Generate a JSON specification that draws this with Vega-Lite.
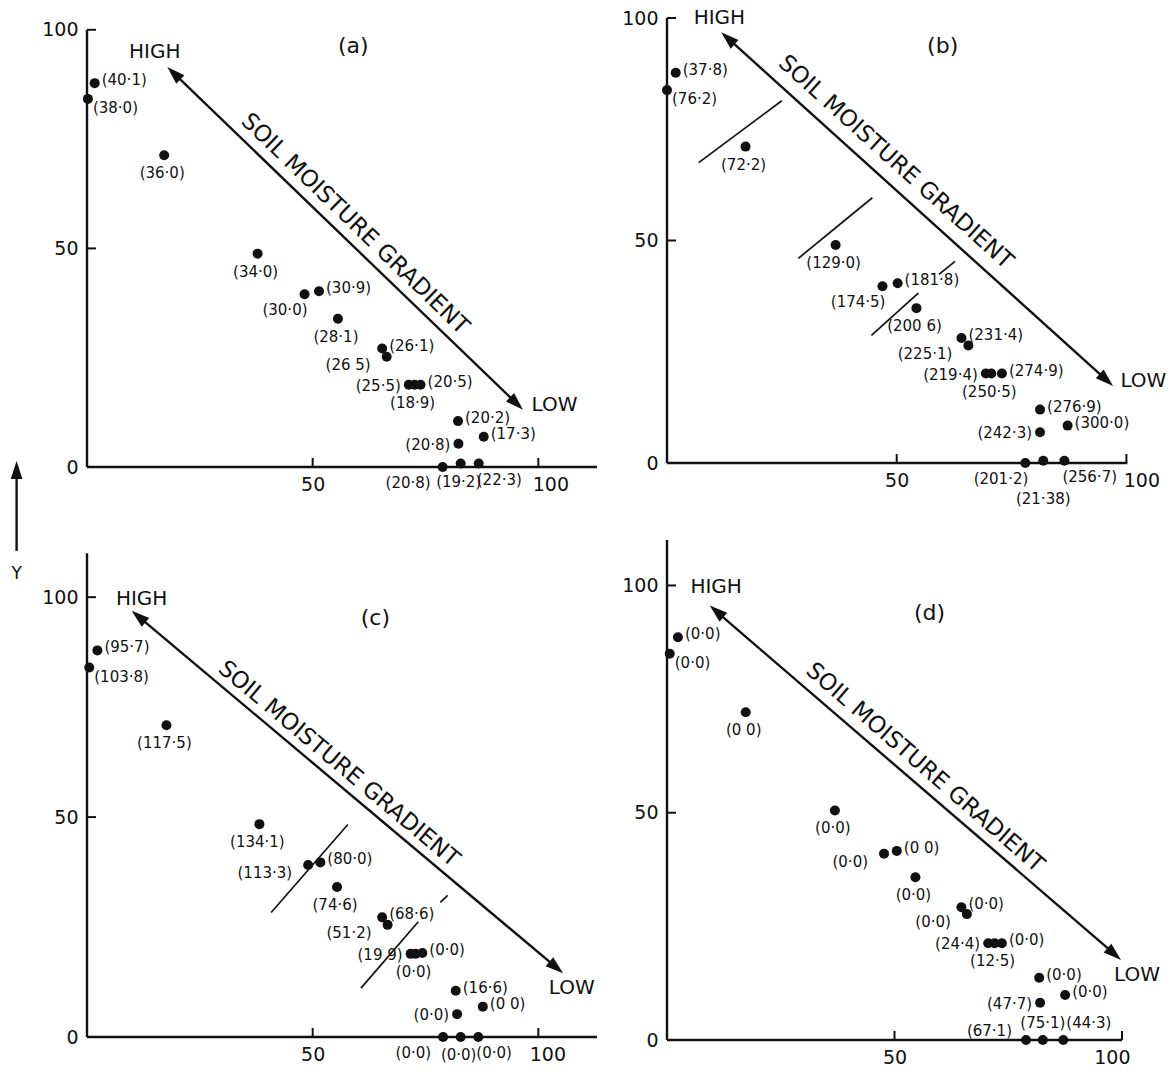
{
  "$schema": "https://vega.github.io/schema/vega-lite/v6.json",
  "background": "white",
  "padding": {"left": 10, "top": 8, "right": 5, "bottom": 5},
  "config": {"view": {"stroke": null}, "font": "DejaVu Sans", "axis": {"labelFont": "DejaVu Sans"}},
  "datasets": {
    "points": [
      {"p":"a","x":1.7,"y":87.8,"label":"(40·1)","pos":"r"},
      {"p":"a","x":0.2,"y":84.2,"label":"(38·0)","pos":"rb"},
      {"p":"a","x":17.1,"y":71.3,"label":"(36·0)","pos":"b"},
      {"p":"a","x":37.8,"y":48.8,"label":"(34·0)","pos":"b"},
      {"p":"a","x":48.2,"y":39.5,"label":"(30·0)","pos":"bl"},
      {"p":"a","x":51.4,"y":40.2,"label":"(30·9)","pos":"r"},
      {"p":"a","x":55.6,"y":33.9,"label":"(28·1)","pos":"b"},
      {"p":"a","x":65.4,"y":27.1,"label":"(26·1)","pos":"r"},
      {"p":"a","x":66.4,"y":25.2,"label":"(26 5)","pos":"lb"},
      {"p":"a","x":71.3,"y":18.8,"label":"(25·5)","pos":"l"},
      {"p":"a","x":72.6,"y":18.8,"label":"(18·9)","pos":"b"},
      {"p":"a","x":73.9,"y":18.8,"label":"(20·5)","pos":"r"},
      {"p":"a","x":82.2,"y":10.5,"label":"(20·2)","pos":"r"},
      {"p":"a","x":82.3,"y":5.3,"label":"(20·8)","pos":"l"},
      {"p":"a","x":87.9,"y":6.9,"label":"(17·3)","pos":"r"},
      {"p":"a","x":78.8,"y":0,"label":"(20·8)","pos":"bl2"},
      {"p":"a","x":82.8,"y":0.8,"label":"(19·2)","pos":"b"},
      {"p":"a","x":86.8,"y":0.8,"label":"(22·3)","pos":"br"},
      {"p":"b","x":1.9,"y":87.7,"label":"(37·8)","pos":"r"},
      {"p":"b","x":0,"y":83.8,"label":"(76·2)","pos":"rb"},
      {"p":"b","x":17.1,"y":71.1,"label":"(72·2)","pos":"b"},
      {"p":"b","x":36.7,"y":49.0,"label":"(129·0)","pos":"b"},
      {"p":"b","x":46.9,"y":39.7,"label":"(174·5)","pos":"bl"},
      {"p":"b","x":50.2,"y":40.4,"label":"(181·8)","pos":"r"},
      {"p":"b","x":54.3,"y":34.8,"label":"(200 6)","pos":"b"},
      {"p":"b","x":64.1,"y":28.1,"label":"(231·4)","pos":"r"},
      {"p":"b","x":65.6,"y":26.4,"label":"(225·1)","pos":"lb"},
      {"p":"b","x":69.4,"y":20.1,"label":"(219·4)","pos":"l"},
      {"p":"b","x":70.6,"y":20.1,"label":"(250·5)","pos":"b"},
      {"p":"b","x":72.9,"y":20.1,"label":"(274·9)","pos":"r"},
      {"p":"b","x":81.2,"y":12.0,"label":"(276·9)","pos":"r"},
      {"p":"b","x":81.2,"y":6.9,"label":"(242·3)","pos":"l"},
      {"p":"b","x":87.2,"y":8.4,"label":"(300·0)","pos":"r"},
      {"p":"b","x":78.0,"y":0,"label":"(201·2)","pos":"bl"},
      {"p":"b","x":81.9,"y":0.5,"label":"(21·38)","pos":"b2"},
      {"p":"b","x":86.5,"y":0.5,"label":"(256·7)","pos":"br"},
      {"p":"c","x":2.3,"y":87.9,"label":"(95·7)","pos":"r"},
      {"p":"c","x":0.5,"y":84.0,"label":"(103·8)","pos":"rb"},
      {"p":"c","x":17.6,"y":70.9,"label":"(117·5)","pos":"b"},
      {"p":"c","x":38.2,"y":48.4,"label":"(134·1)","pos":"b"},
      {"p":"c","x":49.0,"y":39.1,"label":"(113·3)","pos":"lb"},
      {"p":"c","x":51.7,"y":39.7,"label":"(80·0)","pos":"r"},
      {"p":"c","x":55.4,"y":34.1,"label":"(74·6)","pos":"b"},
      {"p":"c","x":65.4,"y":27.2,"label":"(68·6)","pos":"r"},
      {"p":"c","x":66.6,"y":25.5,"label":"(51·2)","pos":"lb"},
      {"p":"c","x":71.7,"y":18.9,"label":"(19 9)","pos":"l"},
      {"p":"c","x":72.8,"y":18.9,"label":"(0·0)","pos":"b"},
      {"p":"c","x":74.3,"y":19.1,"label":"(0·0)","pos":"r"},
      {"p":"c","x":81.7,"y":10.5,"label":"(16·6)","pos":"r"},
      {"p":"c","x":82.0,"y":5.2,"label":"(0·0)","pos":"l"},
      {"p":"c","x":87.7,"y":6.9,"label":"(0 0)","pos":"r"},
      {"p":"c","x":78.9,"y":0,"label":"(0·0)","pos":"bl2"},
      {"p":"c","x":82.8,"y":0,"label":"(0·0)","pos":"b"},
      {"p":"c","x":86.7,"y":0,"label":"(0·0)","pos":"br"},
      {"p":"d","x":2.4,"y":88.6,"label":"(0·0)","pos":"r"},
      {"p":"d","x":0.6,"y":85.0,"label":"(0·0)","pos":"rb"},
      {"p":"d","x":17.3,"y":72.1,"label":"(0 0)","pos":"b"},
      {"p":"d","x":36.9,"y":50.5,"label":"(0·0)","pos":"b"},
      {"p":"d","x":47.7,"y":41.0,"label":"(0·0)","pos":"lb"},
      {"p":"d","x":50.5,"y":41.6,"label":"(0 0)","pos":"r"},
      {"p":"d","x":54.6,"y":35.8,"label":"(0·0)","pos":"b"},
      {"p":"d","x":64.7,"y":29.2,"label":"(0·0)","pos":"r"},
      {"p":"d","x":65.9,"y":27.7,"label":"(0·0)","pos":"lb"},
      {"p":"d","x":70.6,"y":21.3,"label":"(24·4)","pos":"l"},
      {"p":"d","x":72.0,"y":21.3,"label":"(12·5)","pos":"b"},
      {"p":"d","x":73.6,"y":21.3,"label":"(0·0)","pos":"r"},
      {"p":"d","x":81.8,"y":13.7,"label":"(0·0)","pos":"r"},
      {"p":"d","x":82.0,"y":8.2,"label":"(47·7)","pos":"l"},
      {"p":"d","x":87.5,"y":9.9,"label":"(0·0)","pos":"r"},
      {"p":"d","x":78.9,"y":0,"label":"(67·1)","pos":"al"},
      {"p":"d","x":82.6,"y":0,"label":"(75·1)","pos":"a"},
      {"p":"d","x":87.1,"y":0,"label":"(44·3)","pos":"ar"}
    ],
    "segs": [
      {"p":"a","kind":"axis","x":0,"y":0,"x2":113,"y2":0},
      {"p":"a","kind":"axis","x":0,"y":0,"x2":0,"y2":100},
      {"p":"a","kind":"tick","x":50,"y":0,"x2":50,"y2":2.06},
      {"p":"a","kind":"tick","x":100,"y":0,"x2":100,"y2":2.06},
      {"p":"a","kind":"tick","x":0,"y":50,"x2":2.0,"y2":50},
      {"p":"a","kind":"tick","x":0,"y":100,"x2":2.0,"y2":100},
      {"p":"a","kind":"arrow","x":19.1,"y":90.2,"x2":95.3,"y2":14.4},
      {"p":"a","kind":"arrow","x":-15.6,"y":-19.2,"x2":-15.6,"y2":-1.0},
      {"p":"b","kind":"axis","x":0,"y":0,"x2":100.2,"y2":0},
      {"p":"b","kind":"axis","x":0,"y":0,"x2":0,"y2":100},
      {"p":"b","kind":"tick","x":50,"y":0,"x2":50,"y2":2.02},
      {"p":"b","kind":"tick","x":100,"y":0,"x2":100,"y2":2.02},
      {"p":"b","kind":"tick","x":0,"y":50,"x2":1.96,"y2":50},
      {"p":"b","kind":"tick","x":0,"y":100,"x2":1.96,"y2":100},
      {"p":"b","kind":"arrow","x":13.1,"y":95.6,"x2":95.8,"y2":18.5},
      {"p":"b","kind":"bound","x":6.9,"y":67.5,"x2":25.0,"y2":81.4},
      {"p":"b","kind":"bound","x":28.6,"y":46.0,"x2":44.7,"y2":59.6},
      {"p":"b","kind":"bound","x":44.5,"y":28.7,"x2":54.7,"y2":38.2},
      {"p":"b","kind":"bound","x":59.2,"y":42.4,"x2":62.7,"y2":45.3},
      {"p":"c","kind":"axis","x":0,"y":0,"x2":113,"y2":0},
      {"p":"c","kind":"axis","x":0,"y":0,"x2":0,"y2":110},
      {"p":"c","kind":"tick","x":50,"y":0,"x2":50,"y2":2.05},
      {"p":"c","kind":"tick","x":100,"y":0,"x2":100,"y2":2.05},
      {"p":"c","kind":"tick","x":0,"y":50,"x2":2.0,"y2":50},
      {"p":"c","kind":"tick","x":0,"y":100,"x2":2.0,"y2":100},
      {"p":"c","kind":"arrow","x":11.3,"y":95.7,"x2":104.1,"y2":15.7},
      {"p":"c","kind":"bound","x":40.8,"y":28.3,"x2":57.8,"y2":48.3},
      {"p":"c","kind":"bound","x":60.7,"y":11.1,"x2":73.4,"y2":26.2},
      {"p":"c","kind":"bound","x":78.3,"y":30.6,"x2":79.9,"y2":32.2},
      {"p":"d","kind":"axis","x":0,"y":0,"x2":100,"y2":0},
      {"p":"d","kind":"axis","x":0,"y":0,"x2":0,"y2":110},
      {"p":"d","kind":"tick","x":50,"y":0,"x2":50,"y2":1.98},
      {"p":"d","kind":"tick","x":100,"y":0,"x2":100,"y2":1.98},
      {"p":"d","kind":"tick","x":0,"y":50,"x2":1.98,"y2":50},
      {"p":"d","kind":"tick","x":0,"y":100,"x2":1.98,"y2":100},
      {"p":"d","kind":"arrow","x":10.7,"y":94.4,"x2":98.5,"y2":18.8}
    ],
    "heads": [
      {"p":"a","end":"high","x":17.8,"y":91.5},
      {"p":"a","end":"low","x":96.6,"y":13.1},
      {"p":"a","end":"up","x":-15.6,"y":1.4},
      {"p":"b","end":"high","x":11.8,"y":96.8},
      {"p":"b","end":"low","x":97.1,"y":17.3},
      {"p":"c","end":"high","x":9.9,"y":96.9},
      {"p":"c","end":"low","x":105.5,"y":14.5},
      {"p":"d","end":"high","x":9.4,"y":95.6},
      {"p":"d","end":"low","x":99.8,"y":17.6}
    ],
    "notes": [
      {"p":"a","kind":"hl","x":15.0,"y":94.9,"text":"HIGH"},
      {"p":"a","kind":"hl","x":103.6,"y":14.1,"text":"LOW"},
      {"p":"a","kind":"tag","x":59.0,"y":96.3,"text":"(a)"},
      {"p":"a","kind":"grad","x":59.4,"y":55.6,"text":"SOIL MOISTURE GRADIENT"},
      {"p":"a","kind":"ylab","x":-15.6,"y":-24.5,"text":"Y"},
      {"p":"b","kind":"hl","x":11.4,"y":100.0,"text":"HIGH"},
      {"p":"b","kind":"hl","x":103.7,"y":18.5,"text":"LOW"},
      {"p":"b","kind":"tag","x":60.0,"y":93.7,"text":"(b)"},
      {"p":"b","kind":"grad","x":49.8,"y":67.6,"text":"SOIL MOISTURE GRADIENT"},
      {"p":"c","kind":"hl","x":12.1,"y":99.6,"text":"HIGH"},
      {"p":"c","kind":"hl","x":107.4,"y":11.1,"text":"LOW"},
      {"p":"c","kind":"tag","x":63.9,"y":95.3,"text":"(c)"},
      {"p":"c","kind":"grad","x":55.8,"y":62.1,"text":"SOIL MOISTURE GRADIENT"},
      {"p":"d","kind":"hl","x":10.8,"y":99.6,"text":"HIGH"},
      {"p":"d","kind":"hl","x":103.3,"y":14.3,"text":"LOW"},
      {"p":"d","kind":"tag","x":57.7,"y":93.9,"text":"(d)"},
      {"p":"d","kind":"grad","x":56.7,"y":59.9,"text":"SOIL MOISTURE GRADIENT"}
    ]
  },
  "columns": 2,
  "bounds": "flush",
  "spacing": {"row": 73, "column": 70},
  "concat": [
    {
      "width": 510, "height": 449,
      "encoding": {
        "x": {"field": "x", "type": "quantitative", "scale": {"domain": [0, 113], "nice": false, "zero": false},
              "axis": {"values": [50, 100], "title": null, "domain": false, "grid": false, "ticks": false, "labelFontSize": 19, "labelPadding": 8, "labelColor": "#111", "labelOffset": {"condition": {"test": "datum.value == 100", "value": 12}, "value": 0}}},
        "y": {"field": "y", "type": "quantitative", "scale": {"domain": [0, 102.7], "nice": false, "zero": false},
              "axis": {"values": [0, 50, 100], "title": null, "domain": false, "grid": false, "ticks": false, "labelFontSize": 19, "labelPadding": 9, "labelColor": "#111"}}
      },
      "layer": [
        {"data": {"name": "segs"}, "transform": [{"filter": "datum.p == 'a'"}],
         "mark": {"type": "rule", "color": "#111", "strokeCap": "butt", "strokeWidth": {"expr": "datum.kind == 'bound' ? 1.7 : datum.kind == 'tick' ? 2 : 2.4"}},
         "encoding": {"x2": {"field": "x2"}, "y2": {"field": "y2"}}},
        {"data": {"name": "heads"}, "transform": [{"filter": "datum.p == 'a'"}],
         "mark": {"type": "point", "filled": true, "opacity": 1, "color": "#111", "shape": "M0,0L0.65,2L-0.65,2Z", "size": 324, "angle": {"expr": "datum.end == 'high' ? -46 : datum.end == 'low' ? 134 : 0"}}},
        {"data": {"name": "points"}, "transform": [{"filter": "datum.p == 'a'"}],
         "mark": {"type": "circle", "size": 100, "opacity": 1, "color": "#111"}},
        {"data": {"name": "points"}, "transform": [{"filter": "datum.p == 'a'"}],
         "mark": {"type": "text", "fontSize": 15, "color": "#111", "baseline": "middle",
                  "align": {"expr": "indexof(['r','rb','br','ar'], datum.pos) >= 0 ? 'left' : (indexof(['l','lb','bl','bl2','al'], datum.pos) >= 0 ? 'right' : 'center')"},
                  "dx": {"expr": "datum.pos=='r'?7:datum.pos=='rb'?5:datum.pos=='br'?-2:datum.pos=='ar'?3:datum.pos=='l'?-8:datum.pos=='lb'?-16:datum.pos=='bl'?3:datum.pos=='bl2'?-12:datum.pos=='al'?-14:datum.pos=='b'?-2:0"},
                  "dy": {"expr": "datum.pos=='r'?-3:datum.pos=='rb'?9:datum.pos=='br'?16:datum.pos=='ar'?-17:datum.pos=='l'?1:datum.pos=='lb'?8:datum.pos=='bl'?16:datum.pos=='bl2'?16:datum.pos=='al'?-9:datum.pos=='b'?18:datum.pos=='b2'?38:datum.pos=='a'?-17:0"}},
         "encoding": {"text": {"field": "label"}}},
        {"data": {"name": "notes"}, "transform": [{"filter": "datum.p == 'a'"}],
         "mark": {"type": "text", "color": "#111", "align": "center", "baseline": "middle",
                  "fontSize": {"expr": "datum.kind == 'tag' ? 22 : datum.kind == 'grad' ? 23 : datum.kind == 'ylab' ? 17 : 20"},
                  "angle": {"expr": "datum.kind == 'grad' ? 44 : 0"}},
         "encoding": {"text": {"field": "text"}}}
      ]
    },
    {
      "width": 464, "height": 445,
      "encoding": {
        "x": {"field": "x", "type": "quantitative", "scale": {"domain": [0, 101], "nice": false, "zero": false},
              "axis": {"values": [50, 100], "title": null, "domain": false, "grid": false, "ticks": false, "labelFontSize": 19, "labelPadding": 8, "labelColor": "#111", "labelOffset": {"condition": {"test": "datum.value == 100", "value": 15}, "value": 0}}},
        "y": {"field": "y", "type": "quantitative", "scale": {"domain": [0, 100], "nice": false, "zero": false},
              "axis": {"values": [0, 50, 100], "title": null, "domain": false, "grid": false, "ticks": false, "labelFontSize": 19, "labelPadding": 9, "labelColor": "#111"}}
      },
      "layer": [
        {"data": {"name": "segs"}, "transform": [{"filter": "datum.p == 'b'"}],
         "mark": {"type": "rule", "color": "#111", "strokeCap": "butt", "strokeWidth": {"expr": "datum.kind == 'bound' ? 1.7 : datum.kind == 'tick' ? 2 : 2.4"}},
         "encoding": {"x2": {"field": "x2"}, "y2": {"field": "y2"}}},
        {"data": {"name": "heads"}, "transform": [{"filter": "datum.p == 'b'"}],
         "mark": {"type": "point", "filled": true, "opacity": 1, "color": "#111", "shape": "M0,0L0.65,2L-0.65,2Z", "size": 324, "angle": {"expr": "datum.end == 'high' ? -48 : datum.end == 'low' ? 132 : 0"}}},
        {"data": {"name": "points"}, "transform": [{"filter": "datum.p == 'b'"}],
         "mark": {"type": "circle", "size": 100, "opacity": 1, "color": "#111"}},
        {"data": {"name": "points"}, "transform": [{"filter": "datum.p == 'b'"}],
         "mark": {"type": "text", "fontSize": 15, "color": "#111", "baseline": "middle",
                  "align": {"expr": "indexof(['r','rb','br','ar'], datum.pos) >= 0 ? 'left' : (indexof(['l','lb','bl','bl2','al'], datum.pos) >= 0 ? 'right' : 'center')"},
                  "dx": {"expr": "datum.pos=='r'?7:datum.pos=='rb'?5:datum.pos=='br'?-2:datum.pos=='ar'?3:datum.pos=='l'?-8:datum.pos=='lb'?-16:datum.pos=='bl'?3:datum.pos=='bl2'?-12:datum.pos=='al'?-14:datum.pos=='b'?-2:0"},
                  "dy": {"expr": "datum.pos=='r'?-3:datum.pos=='rb'?9:datum.pos=='br'?16:datum.pos=='ar'?-17:datum.pos=='l'?1:datum.pos=='lb'?8:datum.pos=='bl'?16:datum.pos=='bl2'?16:datum.pos=='al'?-9:datum.pos=='b'?18:datum.pos=='b2'?38:datum.pos=='a'?-17:0"}},
         "encoding": {"text": {"field": "label"}}},
        {"data": {"name": "notes"}, "transform": [{"filter": "datum.p == 'b'"}],
         "mark": {"type": "text", "color": "#111", "align": "center", "baseline": "middle",
                  "fontSize": {"expr": "datum.kind == 'tag' ? 22 : datum.kind == 'grad' ? 23 : datum.kind == 'ylab' ? 17 : 20"},
                  "angle": {"expr": "datum.kind == 'grad' ? 42 : 0"}},
         "encoding": {"text": {"field": "text"}}}
      ]
    },
    {
      "width": 510, "height": 497,
      "encoding": {
        "x": {"field": "x", "type": "quantitative", "scale": {"domain": [0, 113], "nice": false, "zero": false},
              "axis": {"values": [50, 100], "title": null, "domain": false, "grid": false, "ticks": false, "labelFontSize": 19, "labelPadding": 8, "labelColor": "#111", "labelOffset": {"condition": {"test": "datum.value == 100", "value": 9}, "value": 0}}},
        "y": {"field": "y", "type": "quantitative", "scale": {"domain": [0, 113], "nice": false, "zero": false},
              "axis": {"values": [0, 50, 100], "title": null, "domain": false, "grid": false, "ticks": false, "labelFontSize": 19, "labelPadding": 9, "labelColor": "#111"}}
      },
      "layer": [
        {"data": {"name": "segs"}, "transform": [{"filter": "datum.p == 'c'"}],
         "mark": {"type": "rule", "color": "#111", "strokeCap": "butt", "strokeWidth": {"expr": "datum.kind == 'bound' ? 1.7 : datum.kind == 'tick' ? 2 : 2.4"}},
         "encoding": {"x2": {"field": "x2"}, "y2": {"field": "y2"}}},
        {"data": {"name": "heads"}, "transform": [{"filter": "datum.p == 'c'"}],
         "mark": {"type": "point", "filled": true, "opacity": 1, "color": "#111", "shape": "M0,0L0.65,2L-0.65,2Z", "size": 324, "angle": {"expr": "datum.end == 'high' ? -50 : datum.end == 'low' ? 130 : 0"}}},
        {"data": {"name": "points"}, "transform": [{"filter": "datum.p == 'c'"}],
         "mark": {"type": "circle", "size": 100, "opacity": 1, "color": "#111"}},
        {"data": {"name": "points"}, "transform": [{"filter": "datum.p == 'c'"}],
         "mark": {"type": "text", "fontSize": 15, "color": "#111", "baseline": "middle",
                  "align": {"expr": "indexof(['r','rb','br','ar'], datum.pos) >= 0 ? 'left' : (indexof(['l','lb','bl','bl2','al'], datum.pos) >= 0 ? 'right' : 'center')"},
                  "dx": {"expr": "datum.pos=='r'?7:datum.pos=='rb'?5:datum.pos=='br'?-2:datum.pos=='ar'?3:datum.pos=='l'?-8:datum.pos=='lb'?-16:datum.pos=='bl'?3:datum.pos=='bl2'?-12:datum.pos=='al'?-14:datum.pos=='b'?-2:0"},
                  "dy": {"expr": "datum.pos=='r'?-3:datum.pos=='rb'?9:datum.pos=='br'?16:datum.pos=='ar'?-17:datum.pos=='l'?1:datum.pos=='lb'?8:datum.pos=='bl'?16:datum.pos=='bl2'?16:datum.pos=='al'?-9:datum.pos=='b'?18:datum.pos=='b2'?38:datum.pos=='a'?-17:0"}},
         "encoding": {"text": {"field": "label"}}},
        {"data": {"name": "notes"}, "transform": [{"filter": "datum.p == 'c'"}],
         "mark": {"type": "text", "color": "#111", "align": "center", "baseline": "middle",
                  "fontSize": {"expr": "datum.kind == 'tag' ? 22 : datum.kind == 'grad' ? 23 : datum.kind == 'ylab' ? 17 : 20"},
                  "angle": {"expr": "datum.kind == 'grad' ? 40 : 0"}},
         "encoding": {"text": {"field": "text"}}}
      ]
    },
    {
      "width": 455, "height": 500,
      "encoding": {
        "x": {"field": "x", "type": "quantitative", "scale": {"domain": [0, 100], "nice": false, "zero": false},
              "axis": {"values": [50, 100], "title": null, "domain": false, "grid": false, "ticks": false, "labelFontSize": 19, "labelPadding": 8, "labelColor": "#111", "labelOffset": {"condition": {"test": "datum.value == 100", "value": 8}, "value": 0}}},
        "y": {"field": "y", "type": "quantitative", "scale": {"domain": [0, 110], "nice": false, "zero": false},
              "axis": {"values": [0, 50, 100], "title": null, "domain": false, "grid": false, "ticks": false, "labelFontSize": 19, "labelPadding": 9, "labelColor": "#111"}}
      },
      "layer": [
        {"data": {"name": "segs"}, "transform": [{"filter": "datum.p == 'd'"}],
         "mark": {"type": "rule", "color": "#111", "strokeCap": "butt", "strokeWidth": {"expr": "datum.kind == 'bound' ? 1.7 : datum.kind == 'tick' ? 2 : 2.4"}},
         "encoding": {"x2": {"field": "x2"}, "y2": {"field": "y2"}}},
        {"data": {"name": "heads"}, "transform": [{"filter": "datum.p == 'd'"}],
         "mark": {"type": "point", "filled": true, "opacity": 1, "color": "#111", "shape": "M0,0L0.65,2L-0.65,2Z", "size": 324, "angle": {"expr": "datum.end == 'high' ? -49 : datum.end == 'low' ? 131 : 0"}}},
        {"data": {"name": "points"}, "transform": [{"filter": "datum.p == 'd'"}],
         "mark": {"type": "circle", "size": 100, "opacity": 1, "color": "#111"}},
        {"data": {"name": "points"}, "transform": [{"filter": "datum.p == 'd'"}],
         "mark": {"type": "text", "fontSize": 15, "color": "#111", "baseline": "middle",
                  "align": {"expr": "indexof(['r','rb','br','ar'], datum.pos) >= 0 ? 'left' : (indexof(['l','lb','bl','bl2','al'], datum.pos) >= 0 ? 'right' : 'center')"},
                  "dx": {"expr": "datum.pos=='r'?7:datum.pos=='rb'?5:datum.pos=='br'?-2:datum.pos=='ar'?3:datum.pos=='l'?-8:datum.pos=='lb'?-16:datum.pos=='bl'?3:datum.pos=='bl2'?-12:datum.pos=='al'?-14:datum.pos=='b'?-2:0"},
                  "dy": {"expr": "datum.pos=='r'?-3:datum.pos=='rb'?9:datum.pos=='br'?16:datum.pos=='ar'?-17:datum.pos=='l'?1:datum.pos=='lb'?8:datum.pos=='bl'?16:datum.pos=='bl2'?16:datum.pos=='al'?-9:datum.pos=='b'?18:datum.pos=='b2'?38:datum.pos=='a'?-17:0"}},
         "encoding": {"text": {"field": "label"}}},
        {"data": {"name": "notes"}, "transform": [{"filter": "datum.p == 'd'"}],
         "mark": {"type": "text", "color": "#111", "align": "center", "baseline": "middle",
                  "fontSize": {"expr": "datum.kind == 'tag' ? 22 : datum.kind == 'grad' ? 23 : datum.kind == 'ylab' ? 17 : 20"},
                  "angle": {"expr": "datum.kind == 'grad' ? 41 : 0"}},
         "encoding": {"text": {"field": "text"}}}
      ]
    }
  ]
}
